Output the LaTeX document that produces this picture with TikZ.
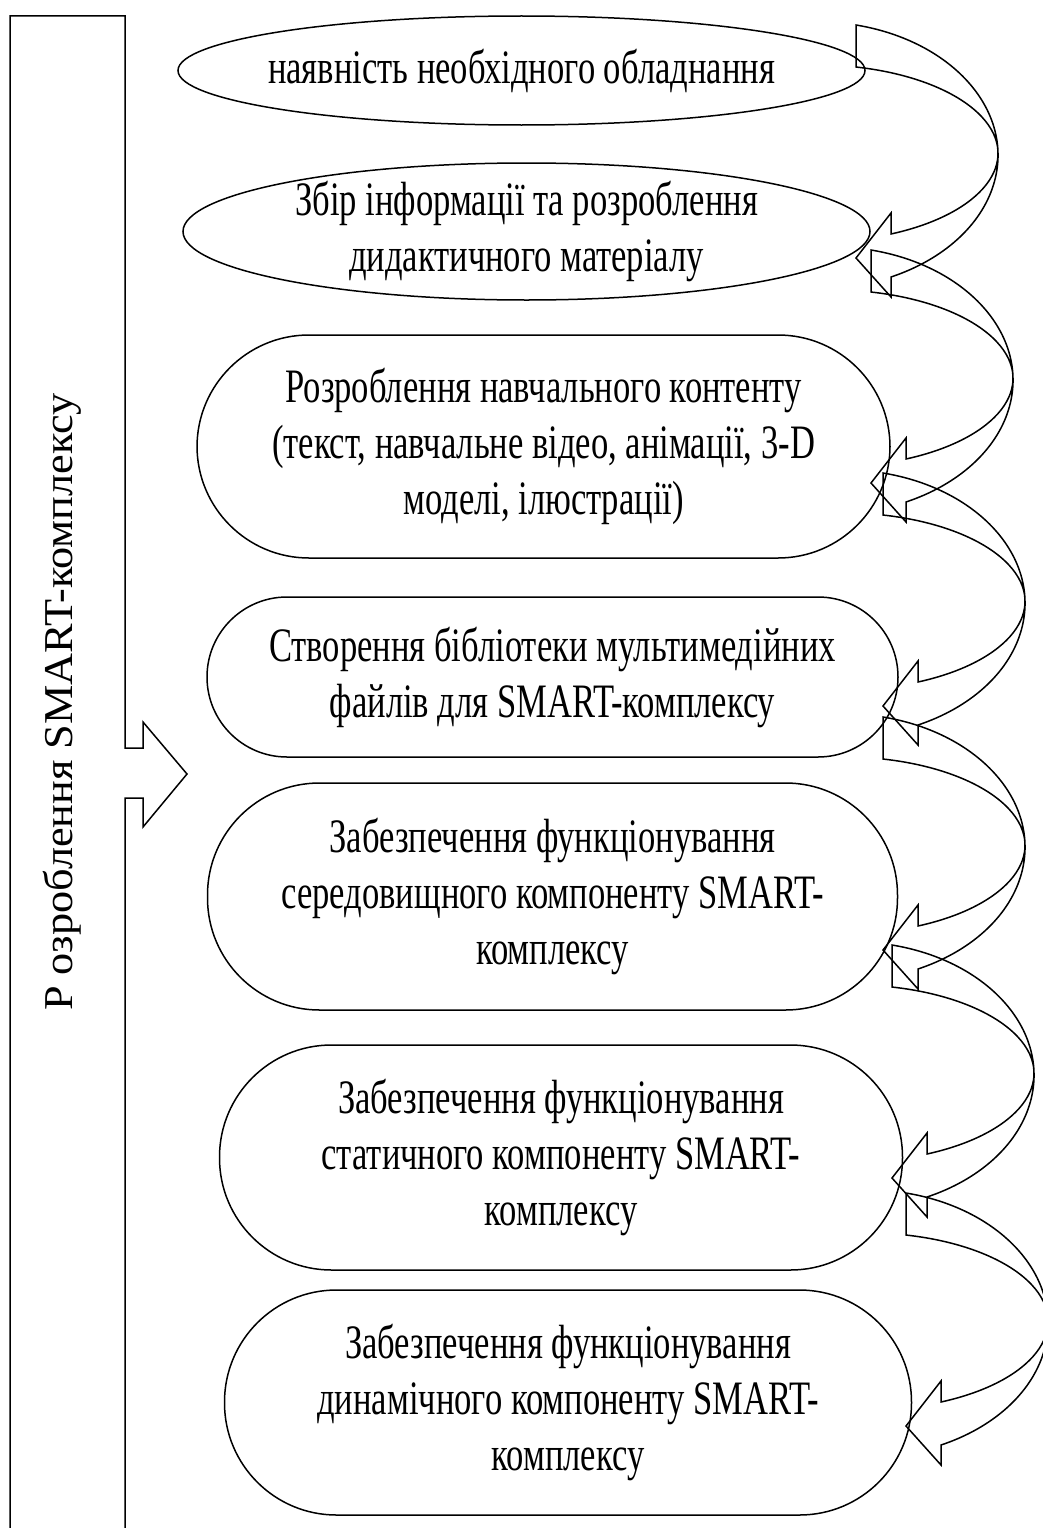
\documentclass[tikz,border=0pt]{standalone}
\usepackage{fontspec}
\setmainfont{Liberation Serif}
\newfontfamily\boxfont[FakeStretch=0.72]{Liberation Serif}
\newfontfamily\sidefont[FakeStretch=1.08]{Liberation Serif}
\usepackage{tikz}
\usetikzlibrary{positioning, shapes.geometric}

\begin{document}
\begin{tikzpicture}[
  x=1pt, y=1pt,
  line width=1.5pt,
  oval/.style={ellipse, draw=black, inner xsep=-150pt, inner ysep=-20pt, outer sep=0pt,
    align=center, font=\boxfont\fontsize{48}{56}\selectfont, minimum width=687pt},
  stage/.style={rectangle, draw=black, rounded corners=112pt, outer sep=0pt,
    align=center, font=\boxfont\fontsize{48}{56}\selectfont},
  turn/.pic={
    \draw (0,0) arc[start angle=77.3, end angle=-65.66, x radius=182, y radius=133.57]
      -- (35,-272) -- (0,-233) -- (35,-188) -- (35,-209)
      arc[start angle=-65.66, end angle=77.3, x radius=182, y radius=88.51] -- cycle;
  }
]
\clip (0,0) rectangle (1043,-1528);

% left band with its arrow
\draw (10,-1528) -- (10,-16) -- (125,-16) -- (125,-748) -- (143,-748) -- (143,-722)
  -- (187,-774) -- (143,-827) -- (143,-798) -- (125,-798) -- (125,-1528);
\node[rotate=90, font=\sidefont\fontsize{41}{41}\selectfont] (title) at (62,-702)
  {Р озроблення SMART-комплексу};

% stages
\node[oval, minimum height=109pt] (e1) at (521.5,-70.5) {наявність необхідного обладнання};
\node[oval, minimum height=137pt, below=38pt of e1, xshift=5pt] (e2)
  {Збір інформації та розроблення\\дидактичного матеріалу};
\node[stage, minimum width=693pt, minimum height=223pt, below=35pt of e2, xshift=17pt] (s3)
  {Розроблення навчального контенту\\(текст,  навчальне відео, анімації, 3-D\\моделі, ілюстрації)};
\node[stage, rounded corners=80pt, minimum width=691pt, minimum height=160pt, below=39pt of s3, xshift=9pt] (s4)
  {Створення бібліотеки мультимедійних\\файлів для SMART-комплексу};
\node[stage, minimum width=690pt, minimum height=227pt, below=26pt of s4] (s5)
  {Забезпечення функціонування\\середовищного компоненту SMART-\\комплексу};
\node[stage, minimum width=683pt, minimum height=225pt, below=35pt of s5, xshift=8.5pt] (s6)
  {Забезпечення функціонування\\статичного компоненту SMART-\\комплексу};
\node[stage, minimum width=687pt, minimum height=225pt, below=20pt of s6, xshift=7pt] (s7)
  {Забезпечення функціонування\\динамічного компоненту SMART-\\комплексу};

% curved arrows between stages
\coordinate (t1) at (856,-25);
\coordinate (t2) at (871,-250);
\coordinate (t3) at (883,-473);
\coordinate (t4) at (883,-717);
\coordinate (t5) at (892,-945);
\coordinate (t6) at (906,-1193);
\pic at (t1) {turn};
\pic at (t2) {turn};
\pic at (t3) {turn};
\pic at (t4) {turn};
\pic at (t5) {turn};
\pic at (t6) {turn};

\end{tikzpicture}
\end{document}
